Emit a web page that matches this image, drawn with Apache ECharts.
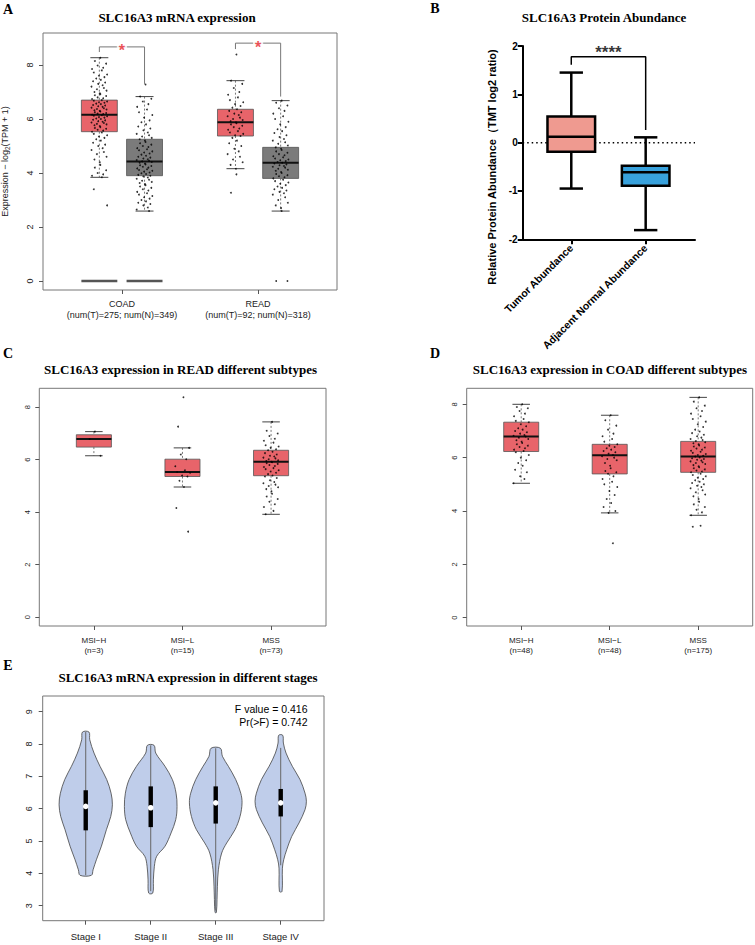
<!DOCTYPE html>
<html>
<head>
<meta charset="utf-8">
<title>SLC16A3</title>
<script src="https://cdn.jsdelivr.net/npm/echarts@6/dist/echarts.min.js"></script>
<style>
  html, body { margin: 0; padding: 0; background: #fff; }
  #chart { width: 755px; height: 945px; }
</style>
</head>
<body>
<div id="chart"></div>
<script>
// ---------- data ----------
// A: mRNA expression, tumor vs normal
const aGroups = ['COAD\n(num(T)=275; num(N)=349)', 'READ\n(num(T)=92; num(N)=318)'];
// box stats: [lower whisker, Q1, median, Q3, upper whisker]
const aTumor = [[3.84, 5.53, 6.16, 6.70, 8.27], [4.16, 5.37, 5.88, 6.36, 7.42]];
const aNormal = [[2.59, 3.90, 4.43, 5.25, 6.83], [2.59, 3.80, 4.38, 4.95, 6.68]];
const aZeroRow = [true, false]; // COAD has a row of samples at 0
// significance brackets: [tumor end, top, normal end]
const aBrackets = [[8.48, 8.67, 7.30], [8.59, 8.81, 6.83]];
const aTumorPts = [
  [8.27, 8.15, 8.05, 7.98, 7.9, 7.85, 7.8, 7.72, 7.65, 7.6, 7.55, 7.5, 7.45, 7.4, 7.35, 7.3, 7.25, 7.2, 7.15, 7.1, 7.05, 7.0, 6.95, 6.92, 6.88, 6.85, 6.8, 6.77, 6.74, 6.7, 6.68, 6.65, 6.62, 6.6, 6.57, 6.55, 6.52, 6.5, 6.47, 6.45, 6.42, 6.4, 6.37, 6.35, 6.32, 6.3, 6.28, 6.25, 6.22, 6.2, 6.18, 6.16, 6.14, 6.12, 6.1, 6.07, 6.05, 6.02, 6.0, 5.97, 5.95, 5.92, 5.9, 5.87, 5.85, 5.82, 5.8, 5.77, 5.74, 5.7, 5.67, 5.64, 5.6, 5.57, 5.53, 5.5, 5.45, 5.4, 5.35, 5.3, 5.25, 5.2, 5.12, 5.05, 5.0, 4.92, 4.85, 4.78, 4.7, 4.6, 4.5, 4.4, 4.3, 4.2, 4.1, 4.0, 3.95, 3.9, 3.84, 3.4, 2.8],
  [8.39, 7.42, 7.3, 7.15, 7.0, 6.9, 6.8, 6.7, 6.62, 6.55, 6.48, 6.42, 6.36, 6.3, 6.25, 6.2, 6.15, 6.1, 6.05, 6.0, 5.96, 5.92, 5.88, 5.84, 5.8, 5.75, 5.7, 5.65, 5.6, 5.55, 5.5, 5.45, 5.4, 5.37, 5.3, 5.2, 5.1, 5.0, 4.9, 4.8, 4.7, 4.6, 4.5, 4.4, 4.3, 4.16, 3.95, 3.27]
];
const aNormalPts = [
  [7.28, 6.83, 6.75, 6.65, 6.55, 6.45, 6.35, 6.25, 6.15, 6.05, 5.95, 5.88, 5.8, 5.72, 5.65, 5.58, 5.5, 5.45, 5.4, 5.35, 5.3, 5.25, 5.2, 5.15, 5.1, 5.05, 5.0, 4.96, 4.92, 4.88, 4.84, 4.8, 4.76, 4.72, 4.68, 4.64, 4.6, 4.57, 4.54, 4.51, 4.48, 4.45, 4.43, 4.41, 4.38, 4.35, 4.32, 4.29, 4.26, 4.23, 4.2, 4.17, 4.14, 4.11, 4.08, 4.05, 4.02, 3.99, 3.96, 3.93, 3.9, 3.87, 3.83, 3.79, 3.75, 3.71, 3.67, 3.63, 3.59, 3.55, 3.5, 3.45, 3.4, 3.35, 3.3, 3.25, 3.2, 3.15, 3.1, 3.05, 3.0, 2.95, 2.9, 2.85, 2.8, 2.72, 2.65, 2.59],
  [6.68, 6.6, 6.5, 6.4, 6.3, 6.2, 6.1, 6.0, 5.9, 5.8, 5.7, 5.62, 5.55, 5.48, 5.4, 5.33, 5.26, 5.2, 5.14, 5.08, 5.02, 4.95, 4.9, 4.85, 4.8, 4.75, 4.7, 4.66, 4.62, 4.58, 4.54, 4.5, 4.47, 4.44, 4.41, 4.38, 4.35, 4.32, 4.29, 4.26, 4.23, 4.2, 4.16, 4.12, 4.08, 4.04, 4.0, 3.96, 3.92, 3.88, 3.84, 3.8, 3.75, 3.7, 3.65, 3.6, 3.55, 3.5, 3.45, 3.4, 3.35, 3.3, 3.25, 3.2, 3.1, 3.0, 2.9, 2.8, 2.7, 2.59, 0, 0]
];
const aYTicks = [0, 2, 4, 6, 8];

// B: protein abundance (GraphPad style, min-max whiskers)
const bCats = ['Tumor Abundance', 'Adjacent Normal Abundance'];
const bStats = [[-0.95, -0.19, 0.12, 0.54, 1.45], [-1.81, -0.89, -0.61, -0.48, 0.11]];
const bBracket = [1.61, 1.78, 0.26]; // [left end, top, right end]
const bRefLine = [0];

// C: READ subtypes
const cGroups = ['MSI\u2212H\n(n=3)', 'MSI\u2212L\n(n=15)', 'MSS\n(n=73)'];
const cStats = [[6.15, 6.48, 6.79, 6.95, 7.07], [4.96, 5.36, 5.53, 6.02, 6.45], [3.92, 5.39, 5.92, 6.36, 7.44]];
const cPts = [
  [7.07, 6.79, 6.15],
  [8.38, 7.26, 6.45, 6.2, 6.02, 5.75, 5.6, 5.53, 5.5, 5.4, 5.36, 5.2, 4.96, 4.16, 3.26],
  [7.44, 7.1, 7.0, 6.9, 6.8, 6.72, 6.65, 6.55, 6.5, 6.45, 6.4, 6.36, 6.3, 6.25, 6.2, 6.15, 6.12, 6.08, 6.05, 6.02, 5.98, 5.95, 5.92, 5.9, 5.87, 5.84, 5.8, 5.76, 5.72, 5.68, 5.64, 5.6, 5.55, 5.5, 5.45, 5.4, 5.36, 5.3, 5.22, 5.15, 5.1, 5.05, 5.0, 4.95, 4.88, 4.8, 4.7, 4.6, 4.5, 4.4, 4.3, 4.2, 4.05, 3.92]
];

// D: COAD subtypes
const dGroups = ['MSI\u2212H\n(n=48)', 'MSI\u2212L\n(n=48)', 'MSS\n(n=175)'];
const dStats = [[5.04, 6.23, 6.79, 7.33, 8.0], [3.93, 5.39, 6.09, 6.50, 7.59], [3.84, 5.45, 6.04, 6.61, 8.26]];
const dPts = [
  [8.0, 7.9, 7.85, 7.75, 7.65, 7.55, 7.45, 7.38, 7.33, 7.25, 7.18, 7.1, 7.05, 7.0, 6.95, 6.9, 6.85, 6.82, 6.79, 6.75, 6.7, 6.65, 6.6, 6.55, 6.5, 6.45, 6.4, 6.35, 6.3, 6.25, 6.2, 6.1, 6.0, 5.9, 5.8, 5.7, 5.55, 5.45, 5.3, 5.2, 5.04],
  [7.59, 7.4, 7.2, 7.05, 6.9, 6.8, 6.7, 6.6, 6.5, 6.45, 6.4, 6.35, 6.3, 6.25, 6.2, 6.15, 6.1, 6.05, 6.0, 5.95, 5.9, 5.8, 5.7, 5.6, 5.5, 5.45, 5.4, 5.3, 5.2, 5.1, 5.0, 4.9, 4.75, 4.6, 4.45, 4.3, 4.15, 4.0, 3.93, 2.79],
  [8.26, 8.1, 7.95, 7.85, 7.75, 7.65, 7.55, 7.45, 7.35, 7.25, 7.15, 7.05, 6.98, 6.92, 6.86, 6.8, 6.75, 6.7, 6.66, 6.62, 6.58, 6.54, 6.5, 6.46, 6.42, 6.38, 6.34, 6.3, 6.26, 6.22, 6.18, 6.14, 6.1, 6.07, 6.04, 6.01, 5.98, 5.95, 5.92, 5.89, 5.86, 5.83, 5.8, 5.76, 5.72, 5.68, 5.64, 5.6, 5.56, 5.52, 5.48, 5.45, 5.4, 5.35, 5.3, 5.25, 5.2, 5.15, 5.1, 5.05, 5.0, 4.95, 4.9, 4.85, 4.78, 4.7, 4.62, 4.55, 4.45, 4.35, 4.25, 4.15, 4.05, 3.95, 3.84, 3.45, 3.41]
];
const cdYTicks = [0, 2, 4, 6, 8];

// E: stages (violins). profile = [value, half width in x units], top to bottom
const eStages = ['Stage I', 'Stage II', 'Stage III', 'Stage IV'];
const eProfiles = [
  [[8.37, 0.05], [8.13, 0.062], [7.72, 0.128], [7.31, 0.22], [6.90, 0.323], [6.48, 0.39], [6.12, 0.41], [5.76, 0.385], [5.35, 0.318], [4.84, 0.241], [4.42, 0.164], [4.11, 0.113], [3.94, 0.087]],
  [[7.96, 0.051], [7.72, 0.077], [7.31, 0.22], [6.90, 0.333], [6.48, 0.39], [6.07, 0.405], [5.66, 0.385], [5.25, 0.313], [4.84, 0.22], [4.53, 0.092], [4.22, 0.056], [3.80, 0.041], [3.39, 0.031]],
  [[7.87, 0.072], [7.62, 0.103], [7.31, 0.195], [6.90, 0.308], [6.48, 0.385], [6.18, 0.405], [5.76, 0.374], [5.35, 0.297], [4.94, 0.169], [4.63, 0.092], [4.11, 0.041], [3.60, 0.026], [3.19, 0.02], [2.79, 0.01]],
  [[8.27, 0.031], [8.03, 0.041], [7.72, 0.082], [7.31, 0.179], [6.90, 0.297], [6.48, 0.374], [6.23, 0.395], [5.97, 0.374], [5.56, 0.282], [5.14, 0.169], [4.73, 0.092], [4.42, 0.046], [4.16, 0.026], [3.44, 0.02]]
];
const eBox = [[3.94, 5.33, 6.07, 6.57, 8.37], [3.45, 5.43, 6.03, 6.69, 7.96], [2.85, 5.54, 6.18, 6.69, 7.87], [4.25, 5.76, 6.18, 6.61, 7.88]];
const eYTicks = [3, 4, 5, 6, 7, 8, 9];
const eStats = ['F value = 0.416', 'Pr(>F) = 0.742'];

// fixed jitter pattern for the dot strips
const jitter = [0.12, -0.55, 0.83, -0.21, 0.47, -0.9, 0.3, -0.68, 0.95, -0.05, 0.62, -0.38, 0.18, -0.77, 0.71, -0.14, 0.4, -0.96, 0.55, -0.3, 0.88, -0.6, 0.05];

// ---------- layout / style ----------
const SERIF = '"Liberation Serif", "Times New Roman", serif';
const SANS = '"Liberation Sans", Arial, sans-serif';
const RED = '#e8646a', GREY = '#7b7b7b';
const A_OFF = 0.166, A_BOX = 0.132, A_SPREAD = 0.06;
const CD_BOX = 0.198, CD_SPREAD = 0.09;

function jitterPts(center, ys, spread) {
  return ys.map((y, i) => [center + jitter[i % jitter.length] * spread, y]);
}

// generic box: data = [x, lo, q1, med, q3, hi]
function boxRender(st) {
  return function (params, api) {
    const x = api.value(0);
    const p = [1, 2, 3, 4, 5].map(k => api.coord([x, api.value(k)]));
    const cx = p[0][0];
    const hw = api.size([st.half, 0])[0];
    const cw = api.size([st.cap, 0])[0];
    const line = (x1, y1, x2, y2, s) => ({ type: 'line', shape: { x1, y1, x2, y2 }, style: s });
    const wStyle = { stroke: st.whisker, lineWidth: st.whiskerW, lineDash: st.dash };
    const cStyle = { stroke: st.capColor, lineWidth: st.capW };
    return {
      type: 'group', children: [
        line(cx, p[4][1], cx, p[3][1], wStyle),
        line(cx, p[1][1], cx, p[0][1], wStyle),
        line(cx - cw, p[4][1], cx + cw, p[4][1], cStyle),
        line(cx - cw, p[0][1], cx + cw, p[0][1], cStyle),
        { type: 'rect', shape: { x: cx - hw, y: p[3][1], width: 2 * hw, height: p[1][1] - p[3][1] },
          style: { fill: st.fill, stroke: st.border, lineWidth: st.borderW } },
        line(cx - hw, p[2][1], cx + hw, p[2][1], { stroke: st.median, lineWidth: st.medianW })
      ]
    };
  };
}

function rStyle(fill, half) {
  return { half: half, cap: half / 2, fill: fill, border: '#555', borderW: 0.8,
    whisker: '#555', whiskerW: 0.8, dash: [2, 2], capColor: '#444', capW: 1,
    median: '#111', medianW: 2 };
}

function zeroBar(half) {
  return function (params, api) {
    const p = api.coord([api.value(0), api.value(1)]);
    const hw = api.size([half, 0])[0];
    return { type: 'line', shape: { x1: p[0] - hw, y1: p[1], x2: p[0] + hw, y2: p[1] },
      style: { stroke: '#555', lineWidth: 2.6 } };
  };
}

// horizontal dotted reference line across the whole plot
function refLine(params, api) {
  const cs = params.coordSys;
  const y = api.coord([cs.x, api.value(0)])[1];
  const yy = api.coord([0, api.value(0)])[1];
  return { type: 'line', shape: { x1: cs.x, y1: yy, x2: cs.x + cs.width, y2: yy },
    style: { stroke: '#000', lineWidth: 1.5, lineDash: [1.5, 3] } };
}

function violinRender(params, api) {
  const i = params.dataIndex;
  const x = api.value(0);
  const prof = eProfiles[i];
  const st = eBox[i];
  const right = prof.map(p => api.coord([x + p[1], p[0]]));
  const left = prof.slice().reverse().map(p => api.coord([x - p[1], p[0]]));
  const c = v => api.coord([x, v]);
  const hi = c(st[4]), lo = c(st[0]), q1 = c(st[1]), q3 = c(st[3]), md = c(st[2]);
  return {
    type: 'group', children: [
      { type: 'polygon', shape: { points: right.concat(left), smooth: 0.35 },
        style: { fill: '#bfcdea', stroke: '#444', lineWidth: 0.8 } },
      { type: 'line', shape: { x1: hi[0], y1: hi[1], x2: lo[0], y2: lo[1] }, style: { stroke: '#666', lineWidth: 1 } },
      { type: 'rect', shape: { x: md[0] - 2.2, y: q3[1], width: 4.4, height: q1[1] - q3[1] }, style: { fill: '#000' } },
      { type: 'circle', shape: { cx: md[0], cy: md[1], r: 2.8 }, style: { fill: '#fff' } }
    ]
  };
}

function rAxes(gi, xr, yr, o) {
  const x = {
    type: 'value', gridIndex: gi, min: xr[0], max: xr[1],
    axisLine: { show: false, onZero: false },
    axisTick: { show: true, customValues: o.xTicks, length: 4, lineStyle: { color: '#555', width: 1 } },
    axisLabel: { show: true, customValues: o.xTicks, formatter: v => o.xLabels[Math.round(v) - 1],
      fontFamily: SANS, fontSize: o.xFont, lineHeight: o.xLine, color: '#222', margin: o.xMargin },
    splitLine: { show: false }
  };
  const y = {
    type: 'value', gridIndex: gi, min: yr[0], max: yr[1],
    axisLine: { show: false, onZero: false },
    axisTick: { show: true, customValues: o.yTicks, length: 4, lineStyle: { color: '#555', width: 1 } },
    axisLabel: { show: true, customValues: o.yTicks, rotate: 90, fontFamily: SANS, fontSize: o.yFont,
      color: '#222', margin: o.yMargin },
    splitLine: { show: false }
  };
  return [x, y];
}

function txt(text, x, y, font, align, rotation) {
  return {
    type: 'text', x: x, y: y, rotation: rotation || 0, silent: true,
    style: { text: text, font: font, fill: '#000', align: align || 'center', verticalAlign: 'middle',
      textAlign: align || 'center', textVerticalAlign: 'middle' }
  };
}

// ---------- axes ----------
const frame = { show: true, borderColor: '#777', borderWidth: 1, backgroundColor: 'transparent', containLabel: false, outerBoundsMode: 'none' };
const grids = [
  Object.assign({ left: 43, top: 33, width: 294, height: 257 }, frame),
  { left: 522.7, top: 46, width: 172.3, height: 193.3, show: false, containLabel: false, outerBoundsMode: 'none' },
  Object.assign({ left: 39.3, top: 388.3, width: 286.7, height: 237.7 }, frame),
  Object.assign({ left: 466.7, top: 388.3, width: 286, height: 237.7 }, frame),
  Object.assign({ left: 42.7, top: 696, width: 281.3, height: 224.7 }, frame)
];

const axA = rAxes(0, [0.42, 2.58], [-0.333, 9.185],
  { xTicks: [1, 2], xLabels: aGroups, xFont: 9, xLine: 10.5, xMargin: 9, yTicks: aYTicks, yFont: 9, yMargin: 9 });
axA[1].name = 'Expression \u2212 log{sub|2}(TPM + 1)';
axA[1].nameLocation = 'middle';
axA[1].nameRotate = 90;
axA[1].nameGap = 32;
axA[1].nameTextStyle = { fontFamily: SANS, fontSize: 9, color: '#222', lineHeight: 12,
  rich: { sub: { fontFamily: SANS, fontSize: 6.5, lineHeight: 12, verticalAlign: 'bottom', color: '#222' } } };

const axB = [
  { type: 'value', gridIndex: 1, min: 0.347, max: 2.663,
    axisLine: { show: true, onZero: false, lineStyle: { color: '#000', width: 2 } },
    axisTick: { show: true, customValues: [1, 2], length: 5, lineStyle: { color: '#000', width: 2 } },
    axisLabel: { show: true, customValues: [1, 2], rotate: 45, formatter: v => bCats[Math.round(v) - 1],
      fontFamily: SANS, fontWeight: 'bold', fontSize: 10.5, color: '#000', margin: 7 },
    splitLine: { show: false } },
  { type: 'value', gridIndex: 1, min: -2, max: 2, interval: 1,
    axisLine: { show: true, onZero: false, lineStyle: { color: '#000', width: 2 } },
    axisTick: { show: true, length: 5, lineStyle: { color: '#000', width: 2 } },
    axisLabel: { fontFamily: SANS, fontWeight: 'bold', fontSize: 10, color: '#000', margin: 5 },
    splitLine: { show: false } }
];

const axC = rAxes(2, [0.384, 3.62], [-0.335, 8.72],
  { xTicks: [1, 2, 3], xLabels: cGroups, xFont: 8, xLine: 10, xMargin: 9, yTicks: cdYTicks, yFont: 7.5, yMargin: 8 });
const axD = rAxes(3, [0.384, 3.616], [-0.31, 8.60],
  { xTicks: [1, 2, 3], xLabels: dGroups, xFont: 8, xLine: 10, xMargin: 9, yTicks: cdYTicks, yFont: 7.5, yMargin: 8 });
const axE = rAxes(4, [0.338, 4.666], [2.536, 9.485],
  { xTicks: [1, 2, 3, 4], xLabels: eStages, xFont: 9.5, xLine: 12, xMargin: 10, yTicks: eYTicks, yFont: 9, yMargin: 9 });

// ---------- series ----------
const series = [];

// A
series.push({
  type: 'custom', xAxisIndex: 0, yAxisIndex: 0, silent: true, z: 2,
  renderItem: zeroBar(A_BOX),
  data: aZeroRow.flatMap((z, g) => z ? [[g + 1 - A_OFF, 0], [g + 1 + A_OFF, 0]] : [])
});
series.push({
  type: 'custom', xAxisIndex: 0, yAxisIndex: 0, silent: true, z: 2,
  renderItem: boxRender(rStyle(RED, A_BOX)),
  data: aTumor.map((s, g) => [g + 1 - A_OFF].concat(s))
});
series.push({
  type: 'custom', xAxisIndex: 0, yAxisIndex: 0, silent: true, z: 2,
  renderItem: boxRender(rStyle(GREY, A_BOX)),
  data: aNormal.map((s, g) => [g + 1 + A_OFF].concat(s))
});
series.push({
  type: 'scatter', xAxisIndex: 0, yAxisIndex: 0, silent: true, z: 3, symbolSize: 1.8,
  itemStyle: { color: '#000' },
  data: aTumorPts.flatMap((ys, g) => jitterPts(g + 1 - A_OFF, ys, A_SPREAD))
    .concat(aNormalPts.flatMap((ys, g) => jitterPts(g + 1 + A_OFF, ys, A_SPREAD)))
});
aBrackets.forEach((b, g) => {
  series.push({
    type: 'line', xAxisIndex: 0, yAxisIndex: 0, silent: true, z: 3, symbol: 'none',
    lineStyle: { color: '#777', width: 1 },
    data: [[g + 1 - A_OFF, b[0]], [g + 1 - A_OFF, b[1]], [g + 1 + A_OFF, b[1]], [g + 1 + A_OFF, b[2]]]
  });
});
series.push({
  type: 'scatter', xAxisIndex: 0, yAxisIndex: 0, silent: true, z: 4, symbolSize: 0,
  itemStyle: { color: 'rgba(0,0,0,0)' },
  label: { show: true, position: 'inside', formatter: '*', color: '#e8262d', fontFamily: SANS,
    fontSize: 16, fontWeight: 'bold', backgroundColor: '#fff', padding: [0, 2], offset: [0, 4] },
  data: aBrackets.map((b, g) => [g + 1, b[1]])
});

// B
series.push({
  type: 'custom', xAxisIndex: 1, yAxisIndex: 1, silent: true, z: 1,
  renderItem: refLine,
  data: bRefLine.map(v => [v])
});
series.push({
  type: 'custom', xAxisIndex: 1, yAxisIndex: 1, silent: true, z: 3,
  renderItem: function (params, api) {
    const st = { half: 0.32, cap: 0.157, fill: params.dataIndex === 0 ? '#ef9a90' : '#38a1dc', border: '#000', borderW: 2.5,
      whisker: '#000', whiskerW: 2.5, dash: null, capColor: '#000', capW: 2.5, median: '#000', medianW: 2.5 };
    return boxRender(st)(params, api);
  },
  data: bStats.map((s, i) => [i + 1].concat(s))
});
series.push({
  type: 'line', xAxisIndex: 1, yAxisIndex: 1, silent: true, z: 3, symbol: 'none',
  lineStyle: { color: '#000', width: 1.5 },
  data: [[1, bBracket[0]], [1, bBracket[1]], [2, bBracket[1]], [2, bBracket[2]]]
});
series.push({
  type: 'scatter', xAxisIndex: 1, yAxisIndex: 1, silent: true, z: 4, symbolSize: 0,
  itemStyle: { color: 'rgba(0,0,0,0)' },
  label: { show: true, position: 'inside', offset: [0, -4], formatter: '****', color: '#000', fontFamily: SANS,
    fontSize: 17, fontWeight: 'bold' },
  data: [[1.5, bBracket[1]]]
});

// C and D
[[2, cStats, cPts], [3, dStats, dPts]].forEach(function (d) {
  series.push({
    type: 'custom', xAxisIndex: d[0], yAxisIndex: d[0], silent: true, z: 2,
    renderItem: boxRender(rStyle(RED, CD_BOX)),
    data: d[1].map((s, g) => [g + 1].concat(s))
  });
  series.push({
    type: 'scatter', xAxisIndex: d[0], yAxisIndex: d[0], silent: true, z: 3, symbolSize: 1.8,
    itemStyle: { color: '#000' },
    data: d[2].flatMap((ys, g) => jitterPts(g + 1, ys, CD_SPREAD))
  });
});

// E
series.push({
  type: 'custom', xAxisIndex: 4, yAxisIndex: 4, silent: true, z: 2,
  renderItem: violinRender,
  data: eStages.map((s, i) => [i + 1, eBox[i][2]])
});

// ---------- chart ----------
const chart = echarts.init(document.getElementById('chart'), null, { renderer: 'svg' });
chart.setOption({
  animation: false,
  backgroundColor: '#fff',
  grid: grids,
  xAxis: [axA[0], axB[0], axC[0], axD[0], axE[0]],
  yAxis: [axA[1], axB[1], axC[1], axD[1], axE[1]],
  series: series,
  graphic: { elements: [
    txt('A', 8, 9, 'bold 14px ' + SERIF),
    txt('SLC16A3 mRNA expression', 177, 17, 'bold 13px ' + SERIF),
    txt('B', 435, 8, 'bold 14px ' + SERIF),
    txt('SLC16A3 Protein Abundance', 604, 17, 'bold 13px ' + SERIF),
    txt('Relative Protein Abundance\uff08TMT log2 ratio)', 491.7, 167, 'bold 11px ' + SANS, 'center', Math.PI / 2),
    txt('C', 8, 353, 'bold 14px ' + SERIF),
    txt('SLC16A3 expression in READ different subtypes', 180.5, 369, 'bold 13px ' + SERIF),
    txt('D', 435, 353, 'bold 14px ' + SERIF),
    txt('SLC16A3 expression in COAD different subtypes', 610, 369, 'bold 13px ' + SERIF),
    txt('E', 8, 665, 'bold 14px ' + SERIF),
    txt('SLC16A3 mRNA expression in different stages', 188, 677, 'bold 13px ' + SERIF),
    txt(eStats[0], 307.5, 709.3, '10.5px ' + SANS, 'right'),
    txt(eStats[1], 307.5, 721.7, '10.5px ' + SANS, 'right')
  ] }
});
</script>
</body>
</html>
